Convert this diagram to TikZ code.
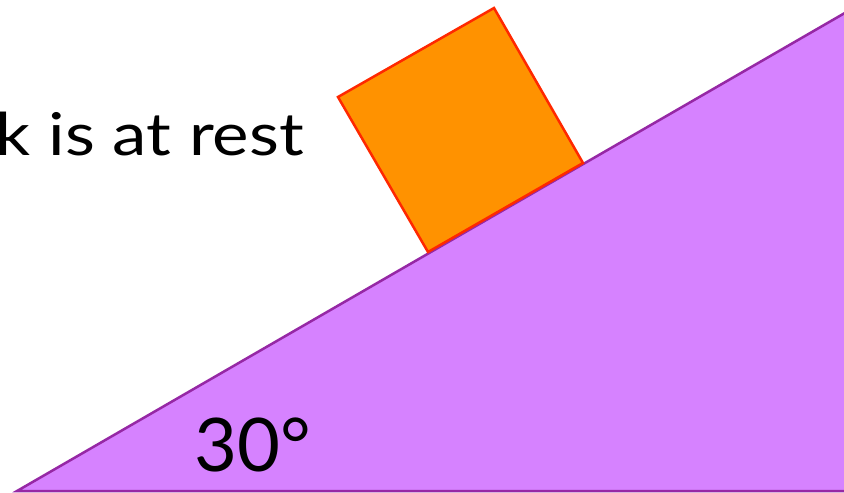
\documentclass[tikz,border=0pt]{standalone}
\usepackage{fontspec}
\setmainfont{Lato}
\definecolor{rampfill}{RGB}{214,130,255}
\definecolor{rampline}{RGB}{150,40,165}
\definecolor{blockfill}{RGB}{255,146,0}
\definecolor{blockline}{RGB}{255,40,0}
\begin{document}
\begin{tikzpicture}[x=1pt,y=-1pt,
  ramp/.style={fill=rampfill,draw=rampline,line width=2.5pt,line join=miter},
  blockbox/.style={fill=blockfill,draw=blockline,line width=2.5pt,line join=miter},
  lbl/.style={inner sep=0pt,text=black}]
\useasboundingbox (0,0) rectangle (844,493);
\fill[white] (0,0) rectangle (844,493);
% incline
\coordinate (A) at (17,491);
\coordinate (B) at (850,491);
\coordinate (C) at (850,10);
\draw[ramp] (A) -- (B) -- (C) -- cycle;
% block
\coordinate (p1) at (428,252);
\coordinate (p2) at (583,163);
\coordinate (p3) at (494,8);
\coordinate (p4) at (338,97);
\draw[blockbox] (p1) -- (p2) -- (p3) -- (p4) -- cycle;
% texts
\node[lbl,anchor=base east,font=\fontsize{59}{64}\selectfont] (rest) at (304,155) {\scalebox{1.17}[1]{k is at rest}};
\node[lbl,anchor=base west,font=\fontsize{74}{80}\selectfont] (ang) at (194,471) {30°};
\end{tikzpicture}
\end{document}
